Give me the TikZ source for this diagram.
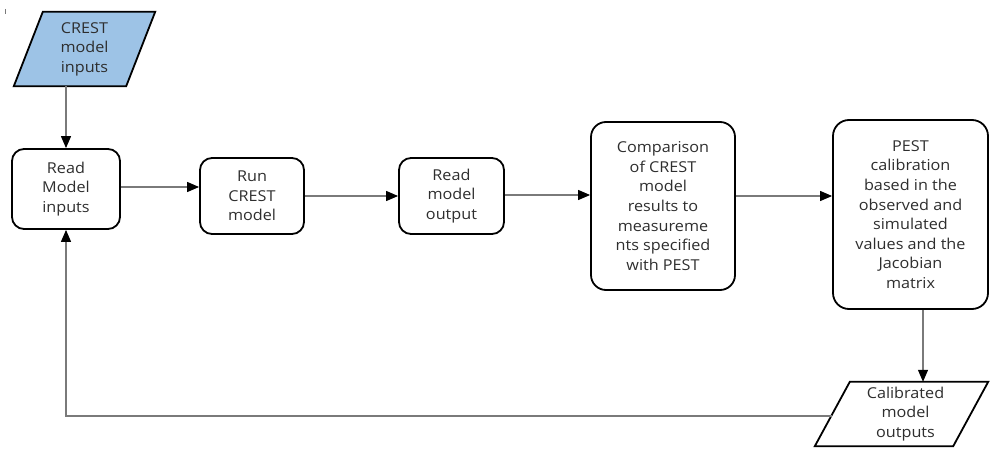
\documentclass[tikz,border=0pt]{standalone}
\usepackage{fontspec}
\setmainfont[FakeStretch=1.08]{Open Sans}
\usetikzlibrary{arrows.meta,calc}
\definecolor{inblue}{HTML}{9DC3E6}
\definecolor{txt}{HTML}{2E2E2E}
\definecolor{wire}{HTML}{7A7A7A}
\tikzset{
  stepbox/.style={draw=black, line width=1.8pt, rounded corners=12pt, align=center,
    text=txt, inner sep=2pt, font=\fontsize{15}{19.6}\selectfont},
  iobox/.style={draw=none, align=center, text=txt, inner sep=0pt,
    font=\fontsize{15}{19.6}\selectfont},
  flow/.style={draw=wire, line width=1.1pt,
    -{Triangle[length=12pt,width=10pt,color=black]}},
}
\begin{document}
\begin{tikzpicture}[x=1pt,y=-1pt]
\useasboundingbox (0,0) rectangle (990,452);

% small stray tick in the corner
\draw[wire, line width=0.8pt] (5,9) -- (5,14);

% input / output data shapes (parallelograms around invisible nodes)
\node[iobox, minimum width=141pt, minimum height=74pt] (in) at (84.5,49) {};
\fill[inblue, draw=black, line width=1.8pt]
  (in.south west) -- ($(in.north west)+(29,0)$) -- (in.north east)
  -- ($(in.south east)-(29,0)$) -- cycle;
\node[iobox] at (in.center) {CREST\\model\\inputs};

\node[iobox, minimum width=173pt, minimum height=64pt] (cal) at (901.5,414) {};
\draw[black, line width=1.8pt, fill=white]
  (cal.south west) -- ($(cal.north west)+(35,0)$) -- (cal.north east)
  -- ($(cal.south east)-(35,0)$) -- cycle;
\node[iobox] at ($(cal.center)+(4,0)$) {Calibrated\\model\\outputs};

% process steps
\node[stepbox, minimum width=108pt, minimum height=80pt] (readin) at (66,189) {Read\\Model\\inputs};
\node[stepbox, minimum width=104pt, minimum height=76pt] (run) at (252,196) {Run\\CREST\\model};
\node[stepbox, minimum width=105pt, minimum height=76pt] (readout) at (451.5,196) {Read\\model\\output};
\node[stepbox, minimum width=144pt, minimum height=168pt, rounded corners=15pt] (comp) at (663,206)
  {Comparison\\of CREST\\model\\results to\\measureme\\nts specified\\with PEST};
\node[stepbox, minimum width=155pt, minimum height=189pt, rounded corners=16pt] (pest) at (910.5,214.5)
  {PEST\\calibration\\based in the\\observed and\\simulated\\values and the\\Jacobian\\matrix};

% connectors
\draw[flow] (readin.north |- in.south) -- (readin.north);
\draw[flow] ($(readin.east)+(0,-2)$) -- ($(run.west |- readin.east)+(0,-2)$);
\draw[flow] (run.east) -- (readout.west);
\draw[flow] ($(readout.east)+(0,-1)$) -- ($(comp.west |- readout.east)+(0,-1)$);
\draw[flow] (comp.east |- readout.east) -- (pest.west |- readout.east);
\coordinate (pdown) at ($(pest.south)+(12.5,0)$);
\draw[flow] (pdown) -- (pdown |- cal.north);
\coordinate (calin) at ($(cal.west)+(17,2)$);
\draw[flow] (calin) -| (readin.south);
\end{tikzpicture}
\end{document}
